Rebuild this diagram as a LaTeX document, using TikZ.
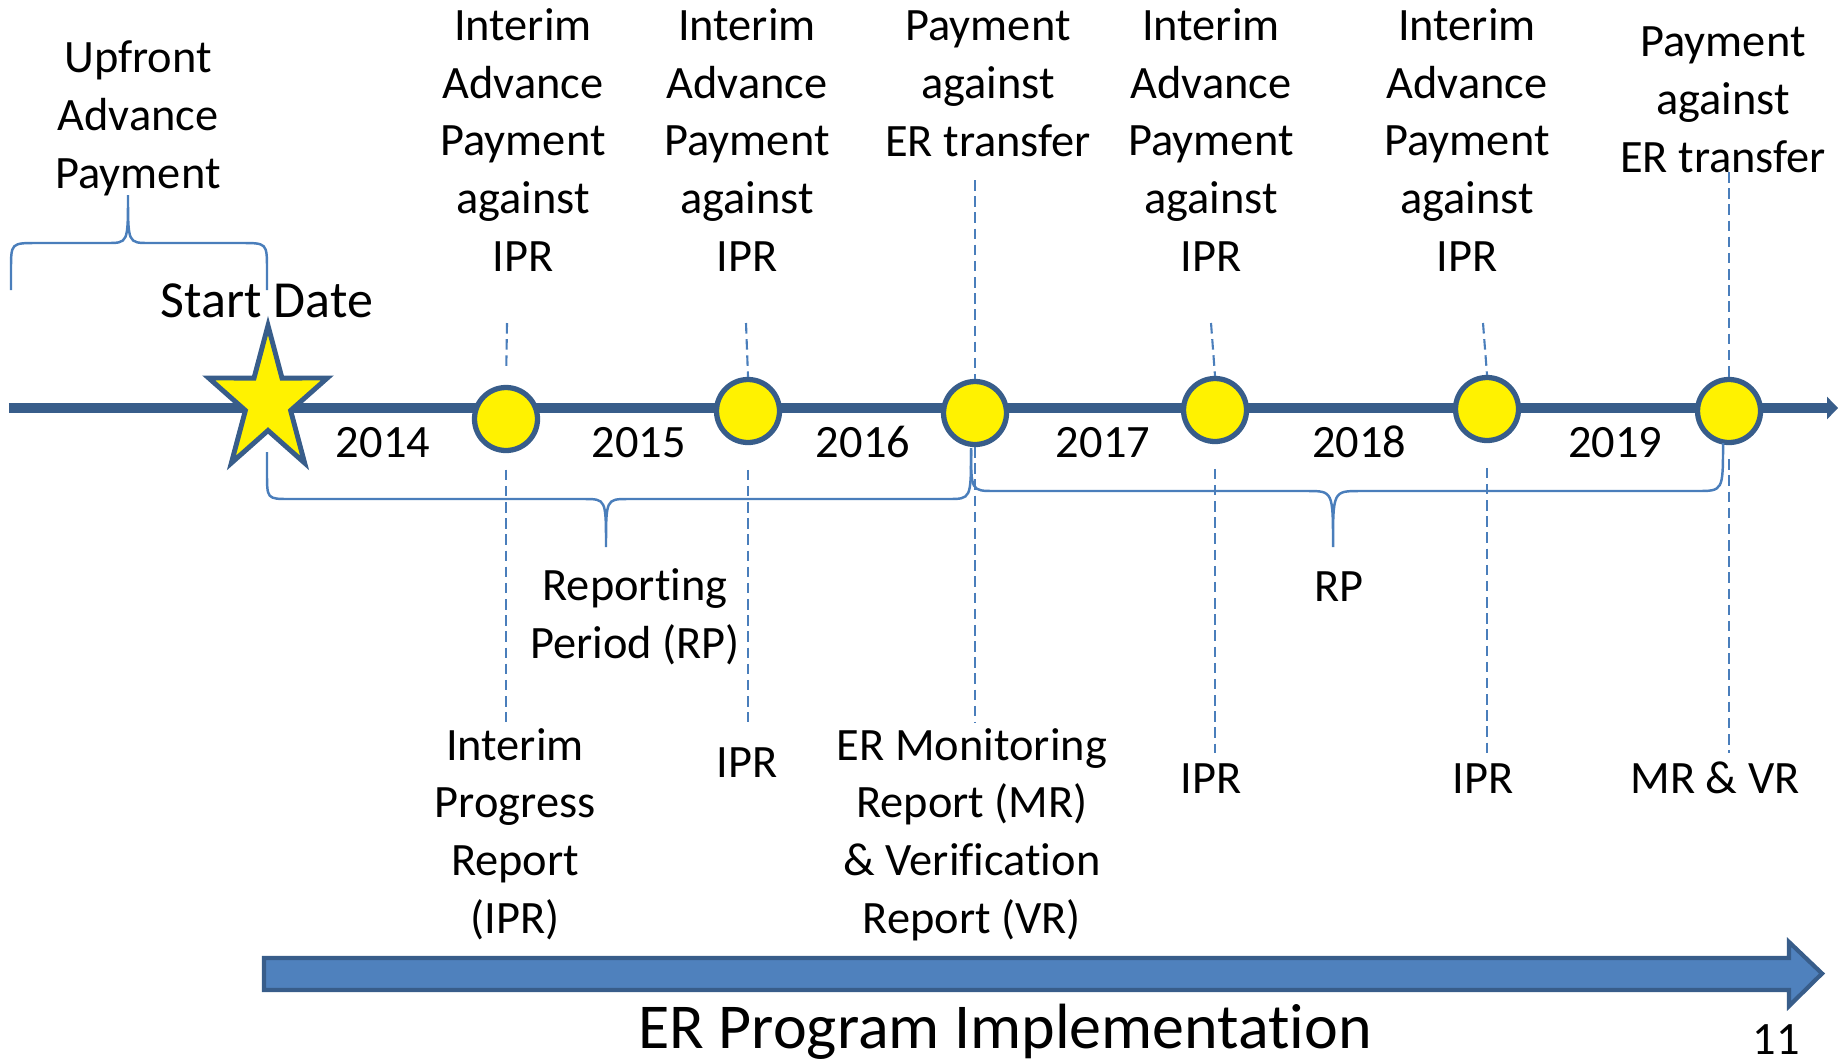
\documentclass[tikz,border=0pt]{standalone}
\usepackage{fontspec}
\setmainfont[Ligatures=NoCommon]{Carlito}
\usetikzlibrary{arrows.meta}
\definecolor{lineblue}{RGB}{56,93,138}
\definecolor{thinblue}{RGB}{74,126,187}
\definecolor{barblue}{RGB}{79,129,189}
\begin{document}
\begin{tikzpicture}[
    txt/.style={align=center, anchor=base, inner sep=3pt, font=\fontsize{13.2}{16.4}\selectfont},
    mile/.style={circle, draw=lineblue, fill=yellow, line width=1.5pt, minimum size=0.63cm, inner sep=0pt},
    tick/.style={thinblue, line width=0.6pt, dash pattern=on 3pt off 1.6pt},
    brace/.style={thinblue, line width=0.7pt}]
  \useasboundingbox (0, 0) rectangle (18.43, 10.58);
  % time line
  \draw [lineblue, line width=2.6pt, -{Triangle[length=1.1mm, width=2.2mm]}] (0.09, 6.5) -- (18.38, 6.5);
  \coordinate (start) at (2.68, 6.565);
  \begin{scope}[shift={(start)}, xscale=0.82]
    \filldraw [draw=lineblue, fill=yellow, line width=1.4pt]
      (90:0.76) -- (126:0.29) -- (162:0.76) -- (198:0.29) -- (234:0.76) -- (270:0.29)%
      -- (306:0.76) -- (342:0.29) -- (18:0.76) -- (54:0.29) -- cycle;
  \end{scope}
  \node (m1) [mile] at (5.06, 6.39) {};
  \node (m2) [mile] at (7.48, 6.47) {};
  \node (m3) [mile] at (9.75, 6.45) {};
  \node (m4) [mile] at (12.15, 6.48) {};
  \node (m5) [mile] at (14.87, 6.49) {};
  \node (m6) [mile] at (17.29, 6.47) {};
  \node (startdate) [txt, font=\fontsize{14.8}{18}\selectfont] at (2.67, 7.41) {Start Date};
  \node (y2014) [txt] at (3.83, 6.01) {2014};
  \node (y2015) [txt] at (6.385, 6.01) {2015};
  \node (y2016) [txt] at (8.63, 6.01) {2016};
  \node (y2017) [txt] at (11.03, 6.01) {2017};
  \node (y2018) [txt] at (13.59, 6.01) {2018};
  \node (y2019) [txt] at (16.15, 6.01) {2019};
  % payments above the line
  \node (upfront) [txt] at (1.38, 8.70) {Upfront\\Advance\\Payment};
  \node (adv1) [txt] at (5.23, 7.87) {Interim\\Advance\\Payment\\against\\IPR};
  \node (adv2) [txt] at (7.47, 7.87) {Interim\\Advance\\Payment\\against\\IPR};
  \node (er1) [txt] at (9.88, 9.02) {Payment\\against\\ER transfer};
  \node (adv3) [txt] at (12.11, 7.87) {Interim\\Advance\\Payment\\against\\IPR};
  \node (adv4) [txt] at (14.67, 7.87) {Interim\\Advance\\Payment\\against\\IPR};
  \node (er2) [txt] at (17.23, 8.86) {Payment\\against\\ER transfer};
  % reports below the line
  \node (rp1) [txt] at (6.35, 4.00) {Reporting\\Period (RP)};
  \node (rp2) [txt] at (13.39, 4.57) {RP};
  \node (ipr1) [txt] at (5.15, 1.25) {Interim\\Progress\\Report\\(IPR)};
  \node (ipr2) [txt] at (7.47, 2.81) {IPR};
  \node (mrvr1) [txt] at (9.72, 1.25) {ER Monitoring\\Report (MR)\\\& Verification\\Report (VR)};
  \node (ipr3) [txt] at (12.11, 2.65) {IPR};
  \node (ipr4) [txt] at (14.83, 2.65) {IPR};
  \node (mrvr2) [txt] at (17.15, 2.65) {MR \& VR};
  \coordinate (u1) at (5.07, 7.35);
  \coordinate (u2) at (7.46, 7.35);
  \coordinate (u3) at (9.75, 8.78);
  \coordinate (u4) at (12.11, 7.35);
  \coordinate (u5) at (14.83, 7.35);
  \coordinate (u6) at (17.29, 8.86);
  \coordinate (d1) at (5.06, 3.36);
  \coordinate (d2) at (7.48, 3.36);
  \coordinate (d3) at (9.75, 3.36);
  \coordinate (d4) at (12.15, 3.05);
  \coordinate (d5) at (14.87, 3.05);
  \coordinate (d6) at (17.29, 3.05);
  \draw [tick, shorten >=4pt] (u1) -- (m1.north);
  \draw [tick] (u2) -- (m2.north);
  \draw [tick] (u3) -- (m3.north);
  \draw [tick] (u4) -- (m4.north);
  \draw [tick] (u5) -- (m5.north);
  \draw [tick] (u6) -- (m6.north);
  \draw [tick, shorten <=4.7pt] (m1.south) -- (d1);
  \draw [tick, shorten <=7pt] (m2.south) -- (d2);
  \draw [tick] (m3.south) -- (d3);
  \draw [tick, shorten <=7pt] (m4.south) -- (d4);
  \draw [tick, shorten <=7pt] (m5.south) -- (d5);
  \draw [tick, shorten <=4pt] (m6.south) -- (d6);
  % braces
  \draw [brace] (0.11, 7.68) -- (0.11, 7.88) .. controls (0.11, 8.15) .. (0.37, 8.15) -- (1.07, 8.15)%
    .. controls (1.28, 8.15) .. (1.28, 8.63) .. controls (1.28, 8.15) .. (1.49, 8.15) -- (2.41, 8.15)%
    .. controls (2.67, 8.15) .. (2.67, 7.88) -- (2.67, 7.68);
  \draw [brace] (2.67, 6.06) -- (2.67, 5.85) .. controls (2.67, 5.59) .. (2.90, 5.59) -- (5.84, 5.59)%
    .. controls (6.06, 5.59) .. (6.06, 5.11) .. controls (6.06, 5.59) .. (6.28, 5.59) -- (9.48, 5.59)%
    .. controls (9.71, 5.59) .. (9.71, 6.08);
  \draw [brace] (9.71, 6.10) .. controls (9.71, 5.67) .. (9.95, 5.67) -- (13.07, 5.67)%
    .. controls (13.33, 5.67) .. (13.33, 5.11) .. controls (13.33, 5.67) .. (13.60, 5.67) -- (16.97, 5.67)%
    .. controls (17.23, 5.67) .. (17.23, 6.15);
  % implementation arrow
  \filldraw [draw=lineblue, fill=barblue, line width=1.2pt] (2.64, 0.68) -- (17.89, 0.68) -- (17.89, 0.52)%
    -- (18.22, 0.845) -- (17.89, 1.16) -- (17.89, 1.0) -- (2.64, 1.0) -- cycle;
  \node (impl) [txt, font=\fontsize{18.2}{22}\selectfont] at (10.05, 0.10) {ER Program Implementation};
  \node (page) [txt] at (17.76, 0.04) {11};
\end{tikzpicture}
\end{document}
